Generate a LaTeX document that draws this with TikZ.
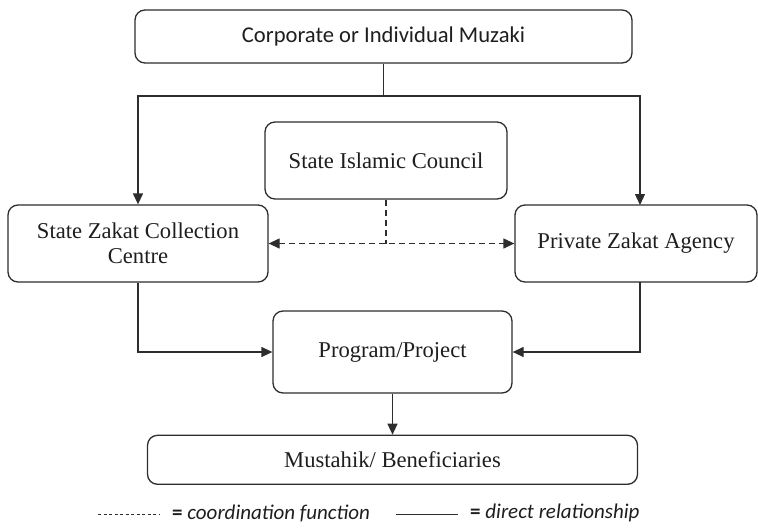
\documentclass[tikz,border=0pt]{standalone}
\usepackage{fontspec}
\setmainfont{Liberation Serif}
\newfontfamily\zakatSans{Carlito}
\usepackage{tikz}
\usetikzlibrary{
  arrows.meta,
  positioning
}
\definecolor{zakatInk}{RGB}{45,45,45}
\definecolor{zakatText}{RGB}{30,30,30}
\tikzset{
  zakatBox/.style={
    rectangle,
    rounded corners=10pt,
    draw=zakatInk,
    line width=1.3pt,
    text=zakatText,
    inner sep=0pt,
    align=center,
    font=\fontsize{22.6}{25}\selectfont
  },
  zakatLine/.style={
    draw=zakatInk,
    line width=1.3pt
  },
  zakatArrow/.style={
    zakatLine,
    -{Triangle[length=11pt,width=10pt]}
  },
  zakatDashed/.style={
    zakatLine,
    dash pattern=on 6pt off 4pt
  },
  zakatKey/.style={
    anchor=west,
    inner sep=0pt,
    text=zakatText,
    font=\zakatSans\fontsize{21}{24}\selectfont
  }
}

\begin{document}
\begin{tikzpicture}[x=1pt, y=-1pt]
  \useasboundingbox (0,0) rectangle (758,528);

  \node[zakatBox, minimum width=497pt, minimum height=53pt, font=\zakatSans\fontsize{22.6}{25}\selectfont] (muzaki) at (383.5,36.5) {Corporate or Individual Muzaki};
  \node[zakatBox, minimum width=242pt, minimum height=77pt] (council) at (386,160.5) {State Islamic Council};
  \node[zakatBox, minimum width=260pt, minimum height=77pt] (collect) at (138,243.5) {State Zakat Collection\\Centre};
  \node[zakatBox, minimum width=242pt, minimum height=77pt] (private) at (636,243.5) {Private Zakat Agency};
  \node[zakatBox, minimum width=239pt, minimum height=82pt] (program) at (392.5,352) {Program/Project};
  \node[zakatBox, minimum width=490pt, minimum height=49pt, below=41pt of program] (mustahik) {Mustahik/ Beneficiaries};

  \coordinate (fork) at (383.5,96);
  \coordinate (privTop) at (640,205);
  \coordinate (privBot) at (640,282);
  \coordinate (meet) at (council |- collect);

  \draw[zakatLine] (muzaki) -- (fork);
  \draw[zakatArrow] (fork) -| (collect);
  \draw[zakatArrow] (fork) -| (privTop);

  % coordination
  \draw[zakatDashed] (council) -- (meet);
  \draw[zakatDashed, {Triangle[length=11pt,width=10pt]}-{Triangle[length=11pt,width=10pt]}] (collect) -- (private);

  \draw[zakatArrow] (collect) |- (program);
  \draw[zakatArrow] (privBot) |- (program);
  \draw[zakatArrow] (program) -- (mustahik);

  % legend
  \coordinate (dashA) at (98,514);
  \coordinate (dashB) at (160,514);
  \coordinate (solidA) at (396,514);
  \coordinate (solidB) at (458,514);
  \draw[draw=zakatInk, line width=0.8pt, dash pattern=on 3pt off 2.5pt] (dashA) -- (dashB);
  \node[zakatKey] (keyCoord) at (172,513) {\textbf{=} \textit{coordination function}};
  \draw[draw=zakatInk, line width=0.8pt] (solidA) -- (solidB);
  \node[zakatKey] (keyDirect) at (470,513) {\textbf{=} \textit{direct relationship}};
\end{tikzpicture}
\end{document}
